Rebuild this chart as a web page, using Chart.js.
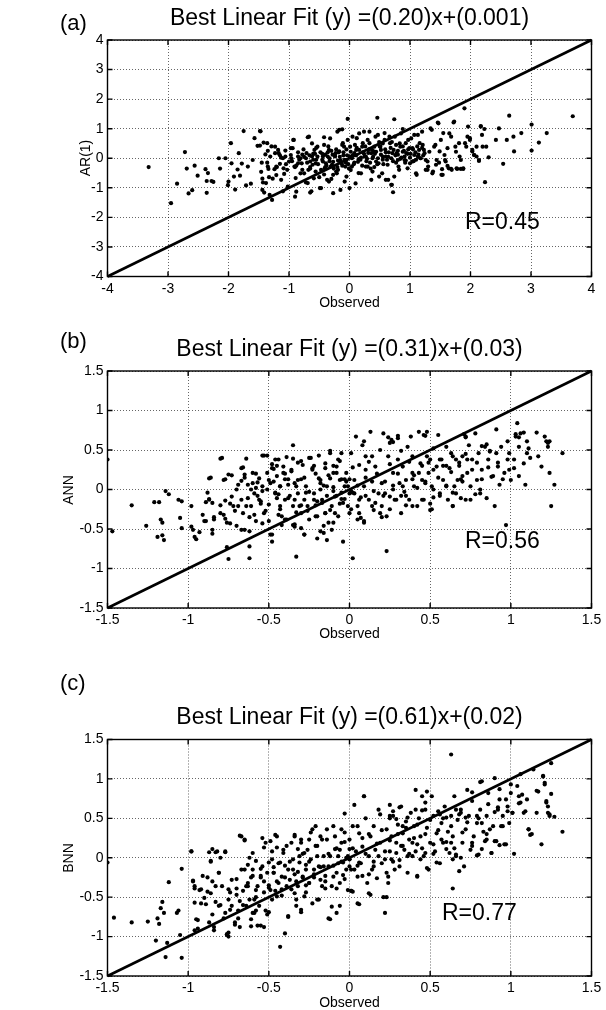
<!DOCTYPE html>
<html><head><meta charset="utf-8">
<script src="https://cdn.jsdelivr.net/npm/chart.js@4.4.1/dist/chart.umd.min.js"></script>
<style>
body{margin:0;background:#fff;width:606px;height:1010px;position:relative;overflow:hidden;font-family:"Liberation Sans",Arial,sans-serif;}
canvas{position:absolute;left:0;}
.t{position:absolute;line-height:1;white-space:nowrap;color:#000;font-family:"Liberation Sans",Arial,sans-serif;}
.c{transform:translateX(-50%);}
.r{transform:translate(-50%,-50%) rotate(-90deg);}
</style></head><body>
<canvas id="ca" width="606" height="300" style="top:0px"></canvas>
<canvas id="cb" width="606" height="300" style="top:330px"></canvas>
<canvas id="cc" width="606" height="300" style="top:700px"></canvas>

<div class="t" style="left:60px;top:12.4px;font-size:22px">(a)</div>
<div class="t c" style="left:349.5px;top:5.5px;font-size:23px">Best Linear Fit (y) =(0.20)x+(0.001)</div>
<div class="t r" style="left:85px;top:158px;font-size:14px">AR(1)</div>
<div class="t c" style="left:349.5px;top:295px;font-size:14px">Observed</div>
<div class="t" style="left:465px;top:209.5px;font-size:23px">R=0.45</div>

<div class="t" style="left:60px;top:330.4px;font-size:22px">(b)</div>
<div class="t c" style="left:349.5px;top:337px;font-size:23px">Best Linear Fit (y) =(0.31)x+(0.03)</div>
<div class="t r" style="left:68px;top:489.5px;font-size:14px">ANN</div>
<div class="t c" style="left:349.5px;top:626px;font-size:14px">Observed</div>
<div class="t" style="left:465px;top:528.5px;font-size:23px">R=0.56</div>

<div class="t" style="left:60px;top:671.9px;font-size:22px">(c)</div>
<div class="t c" style="left:349.5px;top:704.5px;font-size:23px">Best Linear Fit (y) =(0.61)x+(0.02)</div>
<div class="t r" style="left:68px;top:858px;font-size:14px">BNN</div>
<div class="t c" style="left:349.5px;top:995px;font-size:14px">Observed</div>
<div class="t" style="left:442px;top:900.5px;font-size:23px">R=0.77</div>

<script>
// ---------- tick labels ----------
const ticksA = [-4,-3,-2,-1,0,1,2,3,4];
const ticksBC = [-1.5,-1,-0.5,0,0.5,1,1.5];
// ---------- 1:1 reference lines ----------
const refLineA = [[-4,-4],[4,4]];
const refLineBC = [[-1.5,-1.5],[1.5,1.5]];

// ---------- (a) Observed vs AR(1) ----------
const pointsAR1 = [
[-3.32,-0.30],[-2.95,-1.52],[-2.85,-0.86],[-2.72,0.21],[-2.66,-1.19],[-2.69,-0.35],[-2.60,-1.08],[-2.56,-0.25],[-2.51,-0.59],[-2.38,-0.37],[-2.36,-1.17],[-2.36,-0.77],[-2.34,-0.50],[-2.28,-0.77],[-2.25,-0.80],[-2.16,0.0],[-2.14,-0.35],[-2.05,0.0],[-2.00,-0.79],[-2.01,-0.91],[-1.96,0.51],[-1.95,-0.17],[-1.91,-0.62],[-1.89,-1.06],[-1.85,-0.38],[-1.83,0.17],[-1.81,-0.59],[-1.78,-0.18],[-1.75,0.92],[-1.71,-0.92],[-1.68,-0.28],[-1.63,-0.86],[-1.60,-0.06],[-1.57,0.68],[-1.52,0.42],[-1.48,0.92],[-1.46,-0.46],[-1.43,-0.82],[-1.41,-1.16],[-1.36,0.51],[-1.35,-0.28],[-1.32,-1.24],[-1.28,-1.41],[-1.27,-0.69],[-1.23,0.39],[-1.21,-0.28],[-1.17,0.17],[-1.13,-0.73],[-1.09,-0.34],[-1.06,0.06],[-1.02,-0.96],[-0.97,0.34],[-0.93,0.62],[-0.91,-0.28],[-0.90,-1.30],[-0.88,-1.13],[-0.85,0.06],[-0.81,-0.51],[-0.79,-0.17],[-0.76,0.30],[-0.72,-0.82],[-0.69,0.71],[-0.68,-0.39],[-0.65,-1.16],[-0.62,0.06],[-0.59,-0.68],[-0.56,-0.17],[-0.53,0.39],[-0.49,-1.01],[-0.47,-0.39],[-0.44,0.06],[-0.42,0.71],[-0.39,-0.17],[-0.37,-0.73],[-0.34,0.28],[-0.31,-0.28],[-0.27,-1.18],[-0.24,0.06],[-0.21,-0.51],[-0.20,0.90],[-0.17,0.23],[-0.15,-1.07],[-0.13,-0.17],[-0.11,0.51],[-0.08,-0.79],[-0.05,-0.06],[-0.03,1.33],[0.00,-1.01],[0.01,0.39],[0.04,-0.28],[0.08,0.17],[0.10,-0.85],[0.12,0.68],[0.15,-0.03],[0.19,-0.51],[0.21,0.39],[0.24,0.90],[0.27,0.06],[0.30,-0.28],[0.33,0.51],[0.36,-0.73],[0.40,0.23],[0.43,0.73],[0.46,1.37],[0.48,-0.17],[0.51,0.39],[0.54,-0.51],[0.58,0.85],[0.60,0.06],[0.64,-0.73],[0.67,0.51],[0.70,-0.90],[0.72,-1.15],[0.74,1.32],[0.75,0.73],[0.78,0.17],[0.81,-0.28],[0.84,0.39],[0.88,0.99],[0.91,-0.06],[0.94,0.17],[0.97,0.62],[1.00,-0.17],[1.04,0.34],[1.07,0.79],[1.11,-0.56],[1.13,0.06],[1.16,0.51],[1.20,0.90],[1.23,0.28],[1.26,-0.06],[1.29,-0.39],[1.34,1.01],[1.37,-0.51],[1.42,0.45],[1.46,1.21],[1.49,0.23],[1.52,-0.56],[1.55,0.85],[1.58,-0.06],[1.62,0.34],[1.64,-0.34],[1.68,0.73],[1.72,1.21],[1.75,0.39],[1.77,-0.34],[1.82,0.06],[1.88,-0.34],[1.90,1.69],[1.93,0.39],[1.96,1.07],[1.99,0.68],[2.03,0.23],[2.06,0.11],[2.10,0.39],[2.14,-0.09],[2.17,1.09],[2.19,0.79],[2.23,0.99],[2.24,-0.81],[2.26,0.39],[2.30,0.03],[2.42,0.62],[2.47,1.01],[2.54,-0.19],[2.60,0.62],[2.64,1.44],[2.71,0.73],[2.72,0.23],[2.84,0.85],[3.01,1.14],[3.01,0.26],[3.13,0.53],[3.26,0.85],[3.69,1.42],
[-1.48,0.43],[-1.47,0.91],[-1.45,-0.15],[-1.44,-0.69],[-1.44,-1.07],[-1.42,0.53],[-1.39,0.13],[-1.38,-0.84],[-1.36,-0.15],[-1.35,0.25],[-1.34,-0.36],[-1.33,-0.64],[-1.31,0.06],[-1.29,0.40],[-1.24,-0.37],[-1.23,0.17],[-1.21,-0.57],[-1.18,0.28],[-1.15,-0.19],[-1.13,0.02],[-1.10,-1.12],[-1.08,-0.53],[-1.06,0.26],[-1.03,-0.39],[-1.00,-0.11],[-0.97,0.11],[-0.94,0.34],[-0.92,0.62],[-0.89,-0.67],[-0.85,-0.17],[-0.81,0.00],[-0.78,-0.39],[-0.75,-0.51],[-0.71,0.17],[-0.69,-0.84],[-0.67,0.73],[-0.65,-0.11],[-0.63,-1.12],[-0.61,-0.22],[-0.58,0.28],[-0.56,-0.45],[-0.53,0.06],[-0.50,-0.64],[-0.47,-1.01],[-0.44,-0.11],[-0.42,0.45],[-0.41,-0.34],[-0.36,0.06],[-0.34,-0.79],[-0.32,0.67],[-0.29,-0.22],[-0.27,-0.56],[-0.23,0.17],[-0.19,-0.39],[-0.17,0.96],[-0.15,-0.06],[-0.12,0.98],[-0.09,0.39],[-0.07,-0.28],[-0.05,-0.62],[-0.03,0.62],[0.00,0.06],
[-0.75,0.05],[-0.70,-0.15],[-0.66,0.10],[-0.60,-0.05],[-0.57,0.15],[-0.52,-0.20],[-0.48,0.20],[-0.45,-0.05],[-0.40,0.12],[-0.38,-0.25],[-0.33,0.00],[-0.30,0.25],[-0.27,-0.12],[-0.24,0.08],[-0.20,-0.30],[-0.18,0.20],[-0.14,-0.15],[-0.10,0.10],[-0.08,-0.05],[-0.05,0.30],[-0.02,-0.20],[-0.65,-0.35],[-0.55,0.35],[-0.35,0.40],[-0.22,-0.45],[-0.12,0.45],[-0.90,-0.30],[-0.85,0.20],[-0.95,-0.10],[-1.10,0.00],[-1.20,-0.30],[-0.62,0.50],[-0.42,-0.55],[-0.30,-0.70],
[0.05,0.73],[0.11,0.28],[0.16,0.84],[0.22,0.51],[0.25,0.06],[0.27,-0.28],[0.30,0.62],[0.33,0.90],[0.36,0.17],[0.38,-0.45],[0.41,0.39],[0.44,-0.11],[0.47,0.79],[0.49,-0.62],[0.52,0.28],[0.55,0.06],[0.58,0.62],[0.60,-0.73],[0.63,-0.22],[0.66,0.73],[0.69,-0.90],[0.71,0.17],[0.74,-0.62],[0.77,0.45],[0.80,-0.06],[0.82,-0.39],[0.85,0.84],[0.88,0.22],[0.91,0.06],[0.93,0.51],[0.96,-0.34],[0.99,0.34],[1.02,0.67],[1.04,-0.11],[1.07,0.11],[1.10,-0.51],[1.13,0.79],[1.15,0.28],[1.18,0.00],[1.21,0.45],[1.24,0.17],[1.26,-0.39],[1.29,-0.11],[1.32,0.22],
[0.05,0.10],[0.08,-0.15],[0.12,0.35],[0.18,-0.05],[0.22,0.20],[0.28,-0.10],[0.32,0.30],[0.38,0.00],[0.42,0.15],[0.46,-0.20],[0.50,0.40],[0.55,-0.05],[0.60,0.20],[0.64,0.05],[0.68,0.35],[0.72,-0.10],[0.76,0.10],[0.80,0.25],[0.84,-0.02],[0.88,0.40],[0.92,-0.15],[0.96,0.15],[1.00,0.02],[1.05,0.30],[1.10,-0.05],[1.14,0.12],[1.20,0.35],[0.02,-0.40],[0.15,-0.50],[0.35,-0.35],[0.55,0.50],[0.70,0.55],
[1.36,0.96],[1.40,0.39],[1.44,-0.06],[1.47,1.18],[1.51,0.62],[1.54,-0.56],[1.57,0.11],[1.59,-0.11],[1.65,0.84],[1.69,-0.39],[1.73,1.24],[1.76,0.22],[1.81,0.51],[1.84,-0.06],[1.88,-0.36],[1.91,0.51],[1.95,0.73],[1.99,0.62],[2.03,0.28],[2.06,0.11],[2.10,0.06],[2.14,-0.06],[2.17,1.07],[2.20,0.39],
[1.30,-0.28],[1.38,-0.45],[1.43,-0.22],[1.48,-0.15],[1.53,-0.37],[1.62,-0.26],[1.68,-0.36],[1.78,-0.36],[1.84,-0.36],
[-0.45,0.15],[-0.40,-0.30],[-0.36,0.20],[-0.33,-0.10],[-0.28,0.12],[-0.26,-0.35],[-0.22,0.30],[-0.19,-0.08],[-0.16,0.05],[-0.12,-0.25],[-0.10,0.20],[-0.06,-0.15],[-0.04,0.10],[-0.01,-0.35],[0.02,0.22],[0.04,0.00],[0.07,-0.20],[0.09,0.45],[0.11,0.10],[0.14,-0.12],[0.16,0.28],[0.19,0.02],[0.21,-0.25],[0.24,0.15],[0.26,0.40],[0.29,-0.02],[0.31,0.18],[0.34,-0.15],[0.37,0.30],[0.39,0.05],[0.41,-0.30],[0.44,0.22],[0.47,0.00],[0.49,0.55],[0.52,0.12],[0.56,-0.20],[0.59,0.30],[0.62,-0.05],[0.65,0.20],[0.69,0.00],[0.73,0.28],[0.77,-0.15],[0.80,0.12],[0.83,0.50],[0.86,0.02],[0.90,0.25],[0.93,-0.08],[0.97,0.30],[1.01,0.15],[1.06,-0.10],[1.09,0.20],[1.12,0.40],[1.17,0.00],[1.22,0.10],[-0.55,-0.05],[-0.60,0.15],[-0.65,-0.30],[-0.72,0.00],[-0.78,0.12],[-0.83,-0.05],[-0.88,-0.25],[-0.96,0.00],[-1.05,-0.20],[-1.15,0.10]
];

// ---------- (b) Observed vs ANN ----------
const pointsANN = [
[-1.50,0.38],[-1.47,-0.53],[-1.35,-0.20],[-1.26,-0.46],[-1.21,-0.16],[-1.19,-0.60],[-1.18,-0.16],[-1.17,-0.38],[-1.16,-0.42],[-1.16,-0.58],[-1.15,-0.64],[-1.14,-0.02],[-1.12,-0.06],[-1.06,-0.13],[-1.05,-0.36],[-1.04,-0.15],[-1.04,-0.49],[-0.98,-0.21],[-0.98,-0.47],[-0.97,-0.51],[-0.96,-0.60],[-0.95,-0.63],[-0.93,-0.54],[-0.91,-0.32],[-0.89,-0.40],[-0.89,-0.16],[-0.88,-0.04],[-0.87,0.14],[-0.87,-0.13],[-0.85,-0.17],[-0.85,-0.51],[-0.85,-0.56],[-0.84,-0.38],[-0.80,0.39],[-0.80,-0.30],[-0.78,0.12],[-0.77,-0.14],[-0.77,-0.37],[-0.76,-0.73],[-0.75,-0.88],[-0.75,0.19],[-0.74,-0.43],[-0.73,-0.09],[-0.72,-0.21],[-0.70,-0.46],[-0.69,0.06],[-0.67,0.27],[-0.67,-0.13],[-0.66,-0.30],[-0.65,-0.51],[-0.64,0.39],[-0.63,0.06],[-0.62,-0.87],[-0.62,-0.72],[-0.61,-0.21],[-0.60,0.21],[-0.59,-0.05],[-0.58,-0.40],[-0.57,0.09],[-0.56,-0.13],[-0.54,0.43],[-0.54,0.04],[-0.53,-0.30],[-0.51,0.43],[-0.50,-0.19],[-0.49,-0.57],[-0.48,-0.66],[-0.48,0.27],[-0.47,0.10],[-0.46,0.38],[-0.45,-0.11],[-0.44,-0.32],[-0.43,0.04],[-0.42,-0.45],[-0.41,0.21],[-0.40,-0.13],[-0.39,-0.38],[-0.38,0.06],[-0.36,0.23],[-0.35,0.56],[-0.35,-0.21],[-0.34,-0.47],[-0.33,-0.85],[-0.32,-0.05],[-0.32,0.12],[-0.30,-0.30],[-0.29,0.31],[-0.28,-0.13],[-0.28,-0.57],[-0.27,0.04],[-0.26,-0.21],[-0.24,0.40],[-0.23,0.25],[-0.22,-0.05],[-0.21,-0.34],[-0.20,-0.62],[-0.19,0.43],[-0.18,0.12],[-0.17,-0.13],[-0.16,-0.55],[-0.15,0.33],[-0.14,-0.64],[-0.14,0.04],[-0.12,-0.26],[-0.12,0.46],[-0.11,-0.51],[-0.10,0.21],[-0.09,-0.09],[-0.08,0.29],[-0.06,0.12],[-0.05,0.46],[-0.04,-0.66],[-0.04,-0.17],[-0.03,0.04],[-0.02,0.21],[0.00,-0.30],[0.01,0.46],[0.02,-0.87],[0.03,-0.05],[0.03,0.12],[0.04,0.67],[0.05,-0.21],[0.06,0.31],[0.07,-0.36],[0.08,0.56],[0.09,0.04],[0.09,-0.40],[0.10,0.25],[0.12,-0.13],[0.13,0.73],[0.14,0.42],[0.14,0.10],[0.15,-0.26],[0.16,0.29],[0.18,-0.05],[0.19,0.50],[0.20,-0.21],[0.21,0.71],[0.22,0.10],[0.23,-0.78],[0.23,-0.34],[0.24,0.42],[0.25,-0.09],[0.26,0.63],[0.27,0.21],[0.28,-0.13],[0.30,0.65],[0.30,0.38],[0.31,0.08],[0.32,-0.30],[0.33,0.29],[0.34,-0.03],[0.36,0.54],[0.37,-0.13],[0.38,0.67],[0.39,0.21],[0.39,0.42],[0.40,0.04],[0.42,-0.21],[0.43,0.73],[0.44,0.33],[0.45,0.12],[0.46,0.69],[0.46,-0.13],[0.48,0.42],[0.48,0.73],[0.49,0.21],[0.50,-0.26],[0.51,0.04],[0.52,0.52],[0.54,0.29],[0.55,0.69],[0.56,-0.05],[0.57,0.38],[0.58,0.12],[0.60,0.54],[0.61,-0.13],[0.62,0.27],[0.63,0.46],[0.64,-0.21],[0.65,0.04],[0.66,0.38],[0.67,0.12],[0.69,-0.11],[0.70,0.42],[0.72,0.67],[0.73,0.21],[0.74,0.56],[0.75,-0.13],[0.76,0.38],[0.78,0.71],[0.79,0.12],[0.80,0.46],[0.81,-0.05],[0.82,0.25],[0.84,0.54],[0.85,-0.11],[0.86,0.38],[0.87,0.48],[0.88,0.16],[0.90,-0.21],[0.91,0.46],[0.92,0.29],[0.93,0.06],[0.94,0.54],[0.96,0.21],[0.97,-0.45],[0.98,0.38],[0.99,0.46],[1.00,0.12],[1.02,0.27],[1.03,0.67],[1.04,0.84],[1.05,0.54],[1.06,0.71],[1.08,0.33],[1.09,0.06],[1.10,0.46],[1.11,0.52],[1.12,0.40],[1.16,0.72],[1.17,0.42],[1.19,0.29],[1.21,0.67],[1.23,0.54],[1.24,0.21],[1.24,0.61],[1.25,-0.21],[1.27,0.06],[1.32,0.46],
[-0.58,0.02],[-0.55,-0.18],[-0.50,0.12],[-0.46,-0.05],[-0.43,-0.25],[-0.40,0.20],[-0.37,-0.08],[-0.34,0.08],[-0.30,-0.20],[-0.28,0.15],[-0.25,-0.03],[-0.22,0.30],[-0.20,-0.15],[-0.18,0.08],[-0.15,-0.30],[-0.13,0.18],[-0.10,-0.02],[-0.07,0.38],[-0.05,-0.12],[-0.02,0.10],[0.00,-0.05],[0.02,0.28],[0.05,0.05],[0.07,-0.10],[0.10,0.15],[0.12,0.35],[0.15,-0.02],[0.17,0.20],[0.20,0.08],[0.22,-0.05],[0.25,0.32],[0.27,0.05],[0.30,0.20],[0.32,-0.08],[0.35,0.12],[0.37,0.35],[0.40,0.18],[0.42,0.02],[0.45,0.30],[0.47,0.10],[0.50,0.38],[0.52,-0.10],[0.55,0.15],[0.58,0.30],[0.60,0.05],[0.63,0.22],[0.66,-0.05],[0.68,0.30],[0.70,0.10],[0.72,0.45],[-0.62,-0.35],[-0.45,0.30],[-0.30,0.36],[-0.10,-0.42],[0.06,-0.30],[0.20,-0.35],[0.35,-0.20],[0.50,-0.18],[-0.70,0.00],[-0.80,-0.20],[-0.65,0.15],[-0.90,-0.40],[-0.50,-0.40],[-0.35,-0.45],
[0.09,0.61],[0.10,0.42],[0.24,0.66],[0.25,0.59],[0.27,0.60],[0.30,0.68],[0.32,0.49],[0.47,0.68],[0.71,0.70],[0.72,0.66],[0.82,0.55],[0.85,0.57],[0.87,0.49],[0.91,0.76],[0.98,0.61],[1.03,0.70],[1.05,0.66],[1.08,0.72],[1.10,0.61],[1.22,0.61],[1.23,0.59],[0.49,0.34],[0.52,0.25],[0.56,0.38],[0.60,0.30],[0.64,0.42],[0.68,0.34],[0.70,0.17],[0.73,0.38],[0.76,0.25],[0.79,0.34],[0.82,0.13],[0.86,0.28],[0.89,0.17],[0.92,0.34],[0.95,0.13],[0.99,0.25],[1.02,0.38],[1.05,0.17],[0.60,0.04],[0.64,-0.04],[0.69,0.13],[0.72,-0.13],[0.75,0.04],[0.78,-0.06],[0.81,0.00],[0.64,-0.21],[0.51,-0.25],[0.45,-0.13],[0.39,-0.21],[0.35,-0.08],[0.29,-0.13],[0.25,-0.25],[0.19,-0.30],[0.14,-0.21],[0.10,-0.08],[0.06,-0.13],[0.02,-0.04],[0.01,-0.25],[0.05,-0.38],[0.09,-0.42],[0.16,-0.17],[0.21,-0.08],[0.27,0.00],[0.33,0.04],[0.39,0.13],[0.43,0.21],[0.47,0.08],[0.52,0.00],[0.56,-0.08],
[-0.86,0.15],[-0.87,-0.12],[-0.84,-0.35],[-0.79,0.40],[-0.78,-0.32],[-0.77,0.13],[-0.76,-0.42],[-0.74,-0.18],[-0.73,0.18],[-0.71,-0.27],[-0.69,-0.21],[-0.67,0.11],[-0.67,-0.51],[-0.66,0.28],[-0.65,0.19],[-0.64,-0.21],[-0.63,-0.11],[-0.62,-0.53],[-0.61,0.00],[-0.60,0.08],[-0.59,-0.32],[-0.58,0.20],[-0.57,-0.08],[-0.56,0.14],[-0.55,-0.15],[-0.54,-0.02],[-0.54,-0.43],[-0.53,0.43],[-0.52,-0.27],[-0.51,0.00],[-0.51,0.21],[-0.49,0.08],[-0.48,-0.57],[-0.48,0.32],[-0.47,0.26],[-0.46,-0.04],[-0.45,0.17],[-0.44,0.38],[-0.44,-0.06],[-0.43,-0.21],[-0.43,0.04],[-0.42,-0.34],[-0.41,0.29],[-0.40,0.13],[-0.40,-0.38],[-0.39,0.41],[-0.38,-0.11],[-0.38,0.13],[-0.36,0.25],[-0.35,0.39],[-0.34,-0.13],[-0.34,-0.44],[-0.33,0.04],[-0.33,-0.29],[-0.32,0.34],[-0.31,-0.21],[-0.30,-0.49],[-0.30,0.13],[-0.28,-0.57],[-0.27,-0.04],[-0.26,-0.27],[-0.25,-0.38],[-0.25,0.40],[-0.23,0.27],[-0.22,-0.13],[-0.21,0.20],[-0.21,-0.20],[-0.20,-0.34],[-0.19,0.14],[-0.18,0.00],[-0.18,-0.53],[-0.17,-0.17],[-0.16,-0.46],[-0.16,0.05],[-0.15,-0.30],[-0.15,0.27],[-0.14,-0.08],[-0.13,-0.42],[-0.12,0.14],[-0.12,0.49],[-0.11,-0.21],[-0.10,0.30],[-0.10,0.03],[-0.09,-0.30],[-0.08,-0.08],[-0.08,0.21],[-0.07,-0.34],[-0.06,-0.18],[-0.06,0.36],[-0.05,0.13],[-0.05,-0.04],[-0.03,-0.12],[-0.03,0.13],[-0.01,-0.21],[-0.01,0.04],[0.00,0.13],[0.01,-0.02]
];

// ---------- (c) Observed vs BNN ----------
const pointsBNN = [
[-1.50,-0.06],[-1.46,-0.76],[-1.35,-0.82],[-1.25,-0.81],[-1.20,-1.05],[-1.19,-0.77],[-1.18,-0.84],[-1.17,-0.64],[-1.16,-0.56],[-1.15,-0.70],[-1.14,-1.26],[-1.13,-1.08],[-1.12,-0.31],[-1.07,-0.70],[-1.06,-0.67],[-1.05,-0.98],[-1.04,-0.14],[-1.04,-1.27],[-0.98,0.08],[-0.97,-0.30],[-0.96,-0.39],[-0.96,-0.92],[-0.94,-0.79],[-0.93,-0.41],[-0.92,-0.58],[-0.90,-0.51],[-0.88,-0.25],[-0.87,0.07],[-0.86,-0.45],[-0.86,-0.05],[-0.85,-0.72],[-0.84,-0.92],[-0.83,0.07],[-0.83,-0.56],[-0.81,-0.19],[-0.80,0.00],[-0.78,-0.77],[-0.77,0.07],[-0.76,-0.98],[-0.75,-0.53],[-0.75,-1.00],[-0.74,-0.66],[-0.73,-0.28],[-0.71,-0.85],[-0.70,-0.47],[-0.70,-0.39],[-0.69,-0.77],[-0.68,0.28],[-0.67,-0.15],[-0.66,-0.60],[-0.65,0.22],[-0.64,-0.36],[-0.63,-0.09],[-0.62,-0.53],[-0.61,-0.87],[-0.61,-0.25],[-0.60,0.06],[-0.59,-0.70],[-0.58,-0.41],[-0.57,-0.86],[-0.55,-0.14],[-0.54,0.25],[-0.53,-0.88],[-0.53,-0.30],[-0.52,0.19],[-0.51,-0.72],[-0.50,-0.06],[-0.49,-0.41],[-0.48,0.08],[-0.47,-0.19],[-0.46,0.29],[-0.45,-0.49],[-0.44,-0.07],[-0.43,-1.13],[-0.42,-0.24],[-0.41,0.10],[-0.40,-0.96],[-0.39,-0.36],[-0.38,-0.75],[-0.37,-0.05],[-0.36,0.19],[-0.35,-0.15],[-0.34,0.29],[-0.33,-0.53],[-0.33,-0.30],[-0.31,0.02],[-0.30,-0.66],[-0.30,0.23],[-0.29,-0.24],[-0.28,-0.49],[-0.27,-0.09],[-0.26,0.10],[-0.25,-0.32],[-0.24,0.32],[-0.23,-0.58],[-0.22,-0.15],[-0.21,0.40],[-0.20,0.02],[-0.19,-0.53],[-0.18,-0.28],[-0.17,0.23],[-0.16,-0.11],[-0.15,-0.39],[-0.14,0.36],[-0.13,-0.77],[-0.12,0.02],[-0.11,-0.62],[-0.10,-0.24],[-0.09,0.27],[-0.08,-0.39],[-0.08,-0.70],[-0.07,-0.07],[-0.06,0.10],[-0.05,0.36],[-0.04,-0.22],[-0.03,0.56],[-0.02,0.00],[-0.01,-0.41],[0.00,0.23],[0.01,-0.15],[0.02,0.40],[0.02,-0.43],[0.03,0.67],[0.04,0.08],[0.05,-0.24],[0.06,-0.59],[0.06,0.31],[0.07,-0.07],[0.08,0.14],[0.09,0.78],[0.10,0.50],[0.11,-0.32],[0.12,0.02],[0.13,-0.47],[0.13,0.27],[0.14,-0.15],[0.15,0.40],[0.16,0.10],[0.17,-0.26],[0.18,0.61],[0.19,0.19],[0.20,-0.07],[0.21,-0.50],[0.22,-0.70],[0.23,0.36],[0.24,-0.24],[0.25,0.67],[0.25,0.08],[0.26,0.27],[0.27,0.53],[0.28,-0.15],[0.29,0.19],[0.30,0.42],[0.31,-0.03],[0.32,0.65],[0.33,0.31],[0.34,0.10],[0.35,0.46],[0.36,-0.19],[0.37,0.23],[0.38,0.57],[0.39,0.02],[0.40,0.40],[0.41,0.86],[0.42,0.17],[0.42,-0.24],[0.43,0.50],[0.44,0.27],[0.45,0.78],[0.46,0.02],[0.47,0.61],[0.48,0.84],[0.48,0.38],[0.49,-0.15],[0.50,0.19],[0.51,0.78],[0.52,0.53],[0.53,0.08],[0.54,0.31],[0.55,0.59],[0.56,-0.07],[0.57,0.44],[0.58,0.19],[0.59,0.65],[0.61,0.33],[0.62,0.06],[0.63,0.53],[0.63,1.31],[0.64,-0.39],[0.64,0.27],[0.65,0.78],[0.66,0.02],[0.67,0.48],[0.68,-0.17],[0.69,0.61],[0.70,0.19],[0.71,-0.11],[0.72,0.36],[0.73,0.86],[0.74,0.53],[0.75,0.10],[0.76,0.72],[0.77,0.27],[0.79,0.44],[0.80,0.04],[0.81,0.61],[0.82,0.97],[0.83,0.33],[0.84,0.21],[0.85,0.53],[0.86,0.82],[0.88,0.06],[0.89,0.40],[0.90,1.01],[0.91,0.21],[0.92,0.61],[0.93,0.74],[0.94,0.40],[0.95,0.53],[0.96,0.17],[0.98,0.65],[0.99,0.44],[1.00,0.82],[1.01,0.57],[1.02,0.05],[1.04,0.91],[1.05,0.69],[1.06,1.06],[1.07,0.80],[1.08,0.57],[1.10,0.74],[1.11,0.36],[1.12,0.29],[1.14,1.12],[1.16,0.57],[1.17,0.84],[1.19,0.17],[1.20,1.03],[1.21,0.95],[1.22,0.72],[1.23,0.65],[1.24,0.53],[1.25,1.20],[1.25,0.81],[1.27,0.52],[1.32,0.33],
[-0.68,-0.55],[-0.63,-0.32],[-0.58,-0.50],[-0.55,-0.25],[-0.50,-0.35],[-0.47,-0.12],[-0.45,-0.30],[-0.42,-0.40],[-0.40,-0.10],[-0.37,-0.28],[-0.34,-0.45],[-0.32,-0.18],[-0.29,0.05],[-0.27,-0.35],[-0.25,-0.05],[-0.22,-0.25],[-0.20,0.15],[-0.18,-0.12],[-0.15,-0.30],[-0.13,0.05],[-0.10,-0.10],[-0.08,0.12],[-0.05,-0.05],[-0.03,0.20],[0.00,-0.02],[0.02,0.12],[0.05,-0.10],[0.08,0.25],[0.10,0.05],[0.12,0.30],[0.15,-0.05],[0.17,0.18],[0.20,0.35],[0.22,0.08],[0.25,0.22],[0.27,-0.05],[0.30,0.30],[0.32,0.15],[0.35,0.38],[0.37,0.05],[0.40,0.25],[0.42,0.42],[0.45,0.12],[0.47,0.30],[0.50,0.48],[0.52,0.05],[0.55,0.35],[0.58,0.50],[0.60,0.20],[0.63,0.40],[0.65,0.12],[0.68,0.55],[0.70,0.32],[0.73,0.45],[0.76,0.15],[0.80,0.50],[0.85,0.30],[0.90,0.58],[-0.75,-0.40],[-0.80,-0.60],[-0.85,-0.30],[-0.60,-0.70],[-0.65,-0.15],[0.05,0.40],[0.25,0.50],[0.45,0.60],
[0.09,0.78],[0.19,0.55],[0.25,0.53],[0.27,0.59],[0.29,0.49],[0.31,0.64],[0.33,0.40],[0.36,0.51],[0.41,0.61],[0.47,0.70],[0.56,0.55],[0.60,0.51],[0.66,0.61],[0.69,0.57],[0.72,0.51],[0.76,0.83],[0.79,0.53],[0.81,0.96],[0.82,0.44],[0.86,0.68],[0.87,0.36],[0.92,0.64],[0.93,0.87],[0.95,0.40],[0.97,0.74],[0.98,0.59],[1.00,0.93],[1.01,0.57],[1.05,0.78],[1.06,0.70],[1.09,0.59],[1.11,0.36],[1.13,0.30],[1.16,0.85],[1.20,1.04],[1.21,0.93],[1.22,0.70],[1.23,0.57],[1.24,0.55],
[0.00,-0.02],[0.03,-0.15],[0.06,-0.06],[0.08,-0.23],[0.12,-0.21],[0.15,-0.11],[0.18,0.02],[0.22,-0.02],[0.23,-0.19],[0.24,-0.32],[0.26,-0.02],[0.29,0.06],[0.31,-0.11],[0.33,0.15],[0.36,0.02],[0.39,0.19],[0.41,0.08],[0.44,-0.02],[0.47,0.06],[0.48,-0.13],[0.52,0.17],[0.54,-0.06],[0.57,0.23],[0.60,0.11],[0.63,0.19],[0.64,-0.02],[0.66,0.04],[0.69,0.00],[0.76,0.19],[0.79,0.03],[0.82,0.11],[0.85,0.23],[0.88,0.06],[0.90,0.21],[0.93,0.16],[0.97,0.17],[0.42,-0.23],[0.05,-0.58],[0.12,-0.45],[0.23,-0.50],[0.01,-0.42],
[-0.98,0.08],[-0.97,-0.29],[-0.96,-0.36],[-0.96,-0.57],[-0.95,-0.78],[-0.94,-0.90],[-0.92,-0.40],[-0.91,-0.23],[-0.89,-0.59],[-0.88,-0.43],[-0.87,-0.82],[-0.86,-0.04],[-0.85,0.11],[-0.84,-0.88],[-0.83,-0.36],[-0.82,0.08],[-0.81,-0.19],[-0.81,-0.61],[-0.79,-0.36],[-0.77,-0.70],[-0.77,0.08],[-0.76,-0.97],[-0.75,-0.95],[-0.74,-0.44],[-0.73,-0.61],[-0.71,-0.82],[-0.70,-0.27],[-0.69,-0.67],[-0.68,-0.88],[-0.67,0.27],[-0.66,-0.42],[-0.65,0.23],[-0.64,-0.61],[-0.63,-0.36],[-0.62,0.00],[-0.61,-0.78],[-0.60,-0.23],[-0.60,-0.15],[-0.59,-0.53],[-0.58,-0.67],[-0.58,-0.04],[-0.57,-0.36],[-0.56,-0.61],[-0.55,-0.23],[-0.55,-0.86],[-0.54,-0.11],[-0.53,0.13],[-0.53,-0.44],[-0.52,-0.67],[-0.51,-0.19],[-0.50,-0.38],[-0.50,-0.69],[-0.49,0.21],[-0.48,-0.53],[-0.48,-0.02],[-0.47,-0.19],[-0.46,-0.42],[-0.45,0.13],[-0.45,0.27],[-0.44,-0.32],[-0.43,-0.06],[-0.42,-0.48],[-0.41,0.06],[-0.40,-0.25],[-0.39,0.15],[-0.38,-0.15],[-0.38,-0.74],[-0.36,-0.40],[-0.35,-0.02],[-0.34,0.27],[-0.34,-0.21],[-0.33,-0.61],[-0.32,0.11],[-0.32,-0.36],[-0.31,-0.06],[-0.30,0.19],[-0.30,-0.69],[-0.29,-0.25],[-0.28,0.06],[-0.27,-0.44],[-0.27,-0.15],[-0.25,0.23],[-0.25,-0.32],[-0.24,-0.02],[-0.23,0.36],[-0.22,-0.21],[-0.21,0.15],[-0.20,-0.53],[-0.19,-0.11],[-0.18,0.27],[-0.17,-0.36],[-0.16,0.02],[-0.15,-0.23],[-0.14,0.23],[-0.13,-0.11],[-0.12,-0.78],[-0.11,-0.36],[-0.10,0.40],[-0.09,0.11],[-0.08,-0.19],[-0.07,0.02],[-0.06,-0.61],[-0.06,-0.32],[-0.05,0.19],[-0.04,-0.06],[-0.03,-0.27],[-0.03,0.32],[-0.02,-0.15],[-0.01,0.02],[0.00,0.11],[0.00,-0.11],[0.01,-0.42]
];

Chart.defaults.font.family = '"Liberation Sans", Arial, sans-serif';

const frame = {
  id: 'frame',
  afterDraw(c) {
    const {ctx, chartArea: a, scales: {x, y}} = c;
    ctx.save();
    ctx.strokeStyle = '#000';
    ctx.lineWidth = 1.4;
    ctx.strokeRect(a.left, a.top, a.right - a.left, a.bottom - a.top);
    ctx.beginPath();
    const L = 5;
    x.ticks.forEach(t => { const p = x.getPixelForValue(t.value);
      ctx.moveTo(p, a.bottom); ctx.lineTo(p, a.bottom - L);
      ctx.moveTo(p, a.top); ctx.lineTo(p, a.top + L); });
    y.ticks.forEach(t => { const p = y.getPixelForValue(t.value);
      ctx.moveTo(a.left, p); ctx.lineTo(a.left + L, p);
      ctx.moveTo(a.right, p); ctx.lineTo(a.right - L, p); });
    ctx.stroke();
    ctx.restore();
  }
};

function axis(tk, fit) {
  return {
    type: 'linear', min: tk[0], max: tk[tk.length - 1],
    afterBuildTicks: s => { s.ticks = tk.map(v => ({value: v})); },
    afterFit: fit,
    grid: {color: 'rgba(0,0,0,0.6)', lineWidth: 1, drawTicks: false},
    border: {display: false, dash: [1, 2]},
    ticks: {padding: 4, color: '#000', font: {size: 14}, maxRotation: 0, autoSkip: false,
            callback: v => String(v)}
  };
}

function make(id, pts, ref, tk, padTop, xh) {
  const xy = a => a.map(p => ({x: p[0], y: p[1]}));
  return new Chart(document.getElementById(id), {
    type: 'scatter',
    data: {datasets: [
      {data: xy(pts), pointRadius: 2.1, pointHoverRadius: 2.1, pointBackgroundColor: '#000', pointBorderWidth: 0, order: 2},
      {type: 'line', data: xy(ref), borderColor: '#000', borderWidth: 2.6, pointRadius: 0, fill: false, clip: false, order: 1}
    ]},
    options: {
      responsive: false, animation: false, events: [],
      layout: {padding: {top: padTop, right: 14.5, left: 0, bottom: 0}},
      plugins: {legend: {display: false}, tooltip: {enabled: false}, title: {display: false}},
      scales: {
        x: axis(tk, s => { s.height = xh; }),
        y: axis(tk, s => { s.width = 107.5; })
      }
    },
    plugins: [frame]
  });
}

make('ca', pointsAR1, refLineA, ticksA, 40, 23.5);
make('cb', pointsANN, refLineBC, ticksBC, 41, 22);
make('cc', pointsBNN, refLineBC, ticksBC, 39.5, 24);
</script>
</body></html>
